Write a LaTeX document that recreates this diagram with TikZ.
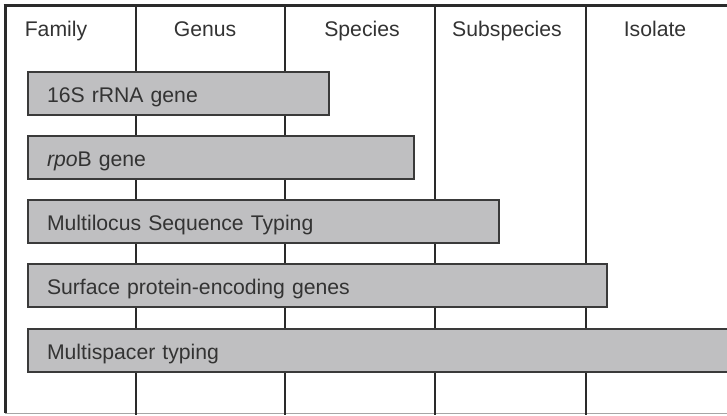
\documentclass[tikz,border=0pt]{standalone}
\usepackage{fontspec}
\setmainfont{Liberation Sans}
\definecolor{barfill}{HTML}{BFBFC1}
\definecolor{barline}{HTML}{3A3A3A}
\definecolor{ink}{HTML}{2A2A2A}
\definecolor{txt}{HTML}{333333}
\newcommand{\bartext}[1]{\raisebox{-4pt}[\height][\depth]{#1}}
\begin{document}
\begin{tikzpicture}[x=1pt,y=-1pt,
  colline/.style={draw=ink,line width=2pt},
  frameline/.style={draw=ink,line width=3pt},
  head/.style={text=txt,font=\fontsize{21.2}{24}\selectfont,anchor=base},
  bar/.style={draw=barline,fill=barfill,line width=2pt,anchor=north west,
    minimum height=43pt,inner xsep=19pt,inner ysep=0pt,align=left,
    text=txt,font=\fontsize{21.2}{24}\selectfont,outer sep=0pt}]
\useasboundingbox (0,0) rectangle (727,415);
\fill[white] (0,0) rectangle (727,415);
% frame and column lines
\coordinate (tl) at (5,5);
\coordinate (tr) at (727,5);
\coordinate (bl) at (5,413);
\coordinate (br) at (727,413);
\draw[draw=gray!70,line width=1pt] (bl) -- (br);
\draw[frameline] (tl) -- (bl);
\foreach \x/\n in {136/a,285/b,435/c,586/d}{
  \coordinate (\n t) at (\x,5);
  \coordinate (\n b) at (\x,415);
  \draw[colline] (\n t) -- (\n b);
}
\draw[frameline] (3.5,5) -- (tr);
% headers
\node[head] (hfam) at (56,36) {Family};
\node[head] (hgen) at (205,36) {Genus};
\node[head] (hspe) at (362,36) {Species};
\node[head] (hsub) at (507,36) {Subspecies};
\node[head] (hiso) at (655,36) {Isolate};
% bars
\node[bar,text width=301pt-38pt] (b1) at (28,72) {\bartext{16S rRNA gene}};
\node[bar,text width=386pt-38pt] (b2) at (28,136) {\bartext{\textit{rpo}B gene}};
\node[bar,text width=471pt-38pt] (b3) at (28,200) {\bartext{Multilocus Sequence Typing}};
\node[bar,text width=579pt-38pt] (b4) at (28,264) {\bartext{Surface protein-encoding genes}};
\node[bar,text width=720pt-38pt] (b5) at (28,329) {\bartext{Multispacer typing}};
\end{tikzpicture}
\end{document}
